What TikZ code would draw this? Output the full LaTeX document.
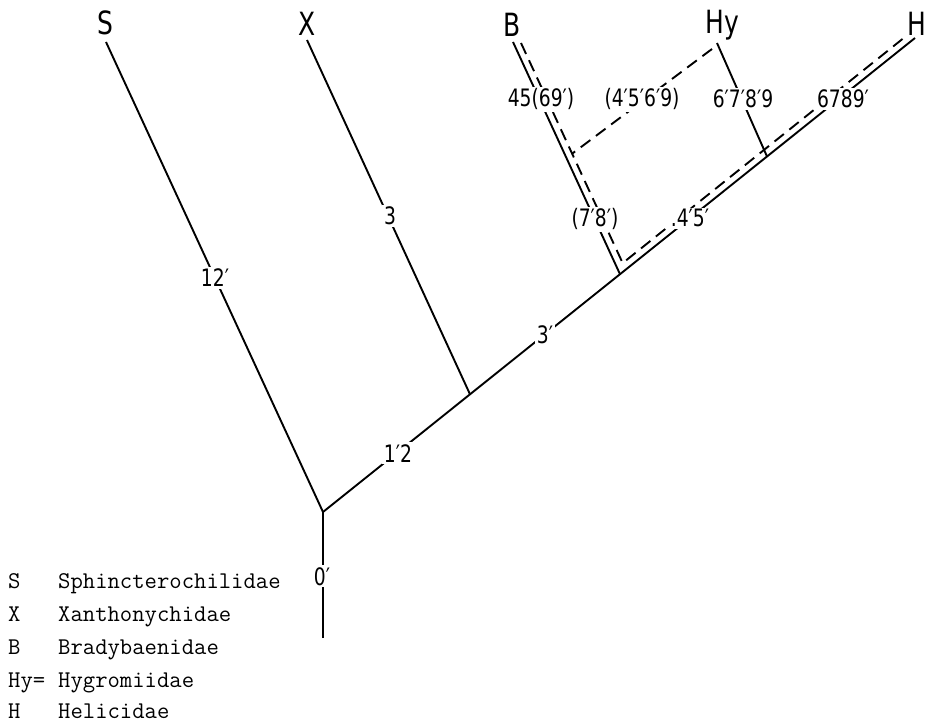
\documentclass[tikz,border=0pt]{standalone}
\usepackage{fontspec}
\newfontfamily\taxfont[FakeStretch=0.78]{DejaVu Sans}
\begin{document}
\begin{tikzpicture}[x=1pt,y=-1pt,
  branch/.style={line width=1.9pt},
  dline/.style={line width=1.9pt, dash pattern=on 12pt off 7pt},
  taxon/.style={font=\taxfont\fontsize{32}{32}\selectfont, inner sep=0pt, anchor=base},
  clab/.style={font=\taxfont\fontsize{24}{24}\selectfont, fill=white, inner sep=2pt, anchor=base},
  legcode/.style={font=\ttfamily\fontsize{24}{24}\selectfont, anchor=base west, inner sep=0pt},
]
\useasboundingbox (0,0) rectangle (927,722);

% taxon labels
\node[taxon] (S)  at (105,35) {S};
\node[taxon] (X)  at (307,36) {X};
\node[taxon] (B)  at (512,37) {B};
\node[taxon] (Hy) at (722,34) {Hy};
\node[taxon] (H)  at (917,36) {H};

% tree coordinates
\coordinate (root) at (323,512);
\coordinate (base) at (323,638);
\coordinate (n1) at (470,394.3);
\coordinate (n2) at (620,274.2);
\coordinate (n3) at (767,156.5);
\coordinate (tS) at (106,42);
\coordinate (tX) at (307,40);
\coordinate (tB) at (513,42);
\coordinate (tHy) at (717,43);
\coordinate (tH) at (915,38);

% solid branches
\draw[branch] (base) -- (root);
\draw[branch] (root) -- (tS);
\draw[branch] (root) -- (tH);
\draw[branch] (n1) -- (tX);
\draw[branch] (n2) -- (tB);
\draw[branch] (n3) -- (tHy);

% dashed parallels
\coordinate (bd1) at (521,43);
\coordinate (bd2) at (626.4,271.3);
\coordinate (td1) at (615.6,268.7);
\coordinate (td2) at (906.7,35.6);
\coordinate (corner) at (intersection of bd1--bd2 and td1--td2);
\coordinate (hyd1) at (712,49);
\coordinate (hyd2) at (573,153);
\coordinate (hyend) at (intersection of hyd1--hyd2 and bd1--bd2);
\draw[dline] (bd1) -- (corner) -- (td2);
\draw[dline] (hyd1) -- (hyend);

% character labels
\node[clab] (l0)  at (322,585) {0′};
\node[clab] (l12) at (215,287) {12′};
\node[clab] (l3)  at (390,225) {3};
\node[clab] (l1a) at (398,462) {1′2};
\node[clab] (l3p) at (545,343) {3′};
\node[clab] (lB1) at (541,107) {45(69′)};
\node[clab] (lHd) at (642,107) {(4′5′6′9)};
\node[clab] (lHy) at (743,108) {6′7′8′9};
\node[clab] (lH)  at (843,108) {6789′};
\node[clab] (lB2) at (595,227) {(7′8′)};
\node[clab] (l45) at (690,227) {.4′5′};

% legend
\node[legcode] (k1) at (8,588) {S};
\node[legcode] (k2) at (8,621) {X};
\node[legcode] (k3) at (8,654) {B};
\node[legcode] (k4) at (8,687) {Hy=};
\node[legcode] (k5) at (8,718) {H};
\node[legcode] (v1) at (58,588) {Sphincterochilidae};
\node[legcode] (v2) at (58,621) {Xanthonychidae};
\node[legcode] (v3) at (58,654) {Bradybaenidae};
\node[legcode] (v4) at (58,687) {Hygromiidae};
\node[legcode] (v5) at (58,718) {Helicidae};
\end{tikzpicture}
\end{document}
